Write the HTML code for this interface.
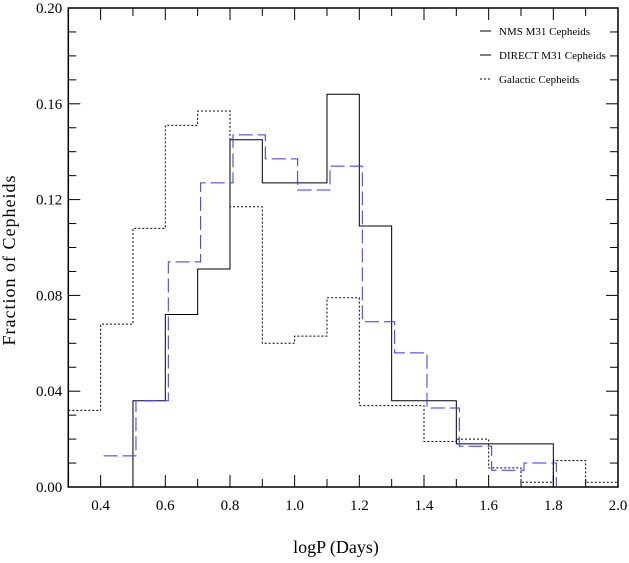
<!DOCTYPE html>
<html><head><meta charset="utf-8"><style>
body{margin:0;background:#fff}
svg text{font-family:"Liberation Serif",serif;fill:#000}
</style></head><body>
<svg id="c" width="629" height="558" xmlns="http://www.w3.org/2000/svg"></svg>
<script>
const binStarts=[0.3,0.4,0.5,0.6,0.7,0.8,0.9,1.0,1.1,1.2,1.3,1.4,1.5,1.6,1.7,1.8,1.9];
const nmsValues=[null,null,0.036,0.072,0.091,0.145,0.127,0.127,0.164,0.109,0.036,0.036,0.018,0.018,0.018,null,null];
const directValues=[null,0.013,0.036,0.094,0.127,0.147,0.137,0.124,0.134,0.069,0.056,0.033,0.017,0.007,0.010,null,null];
const galacticValues=[0.032,0.068,0.108,0.151,0.157,0.117,0.060,0.063,0.079,0.034,0.034,0.019,0.020,0.008,0.002,0.011,0.002];
const xTicks=[0.4,0.6,0.8,1.0,1.2,1.4,1.6,1.8,2.0];
const yTicks=[0,0.04,0.08,0.12,0.16,0.2];
const NS="http://www.w3.org/2000/svg",svg=document.getElementById('c');
const L=68.3,R=618,T=8,B=487;
const X=v=>L+(v-0.3)/1.7*(R-L), Y=v=>B-v/0.2*(B-T);
function mk(t,a){const e=document.createElementNS(NS,t);for(const k in a)e.setAttribute(k,a[k]);svg.appendChild(e);return e;}
function step(vals,color,dash,off,name,noRise){
  let d='',prev=null,started=false;
  binStarts.forEach((s,i)=>{const v=vals[i];if(v==null){if(prev!=null){d+=` L${X(s)+off},${B}`;}prev=null;return;}
    const x0=X(s)+off,x1=X(s+0.1)+off,y=Y(v);
    if(prev==null){ if(!started&&noRise) d+=` M${x0},${y}`; else d+=` M${x0},${B} L${x0},${y}`; }
    else d+=` L${x0},${y}`;
    d+=` L${x1},${y}`;prev=v;started=true;});
  const p=mk('path',{d:d.trim(),fill:'none',stroke:color,'stroke-width':1,'stroke-dasharray':dash});
  
}
const box=mk('rect',{x:L,y:T,width:R-L,height:B-T,fill:'none',stroke:'#000','stroke-width':1.5});

for(let k=3;k<=20;k++){const v=k/10;const x=X(v);const len=(k%2==0)?12:8;
  mk('line',{x1:x,y1:B,x2:x,y2:B-len,stroke:'#000'});mk('line',{x1:x,y1:T,x2:x,y2:T+len,stroke:'#000'});}
for(let k=0;k<=20;k++){const y=Y(k/100);const len=(k%4==0)?12:8;
  mk('line',{x1:L,y1:y,x2:L+len,y2:y,stroke:'#000'});mk('line',{x1:R,y1:y,x2:R-len,y2:y,stroke:'#000'});}
xTicks.forEach(v=>{const t=mk('text',{x:X(v),y:B+23,'text-anchor':'middle','font-size':15});t.textContent=v.toFixed(1);
  });
yTicks.forEach(v=>{const t=mk('text',{x:L-6,y:Y(v)+5,'text-anchor':'end','font-size':15});t.textContent=v.toFixed(2);
  });
const xt=mk('text',{x:336,y:553,'text-anchor':'middle','font-size':18});xt.textContent='logP (Days)';

const yt=mk('text',{x:0,y:0,'text-anchor':'middle','font-size':18,transform:'translate(15,260) rotate(-90)','letter-spacing':'1'});yt.textContent='Fraction of Cepheids';

step(galacticValues,'#000','2,2',0,'galactic-histogram',true);
step(nmsValues,'#000','',0,'nms-histogram',false);
step(directValues,'#3333ff','14,5',3,'direct-histogram',true);
const leg=[['NMS M31 Cepheids','#000',''],['DIRECT M31 Cepheids','#000',''],['Galactic Cepheids','#000','2,2']];
leg.forEach((l,i)=>{const y=31+i*24;mk('line',{x1:480,y1:y,x2:491,y2:y,stroke:l[1],'stroke-dasharray':l[2]});
  const t=mk('text',{x:499,y:y+4,'font-size':11});t.textContent=l[0];
  });
</script>
</body></html>
